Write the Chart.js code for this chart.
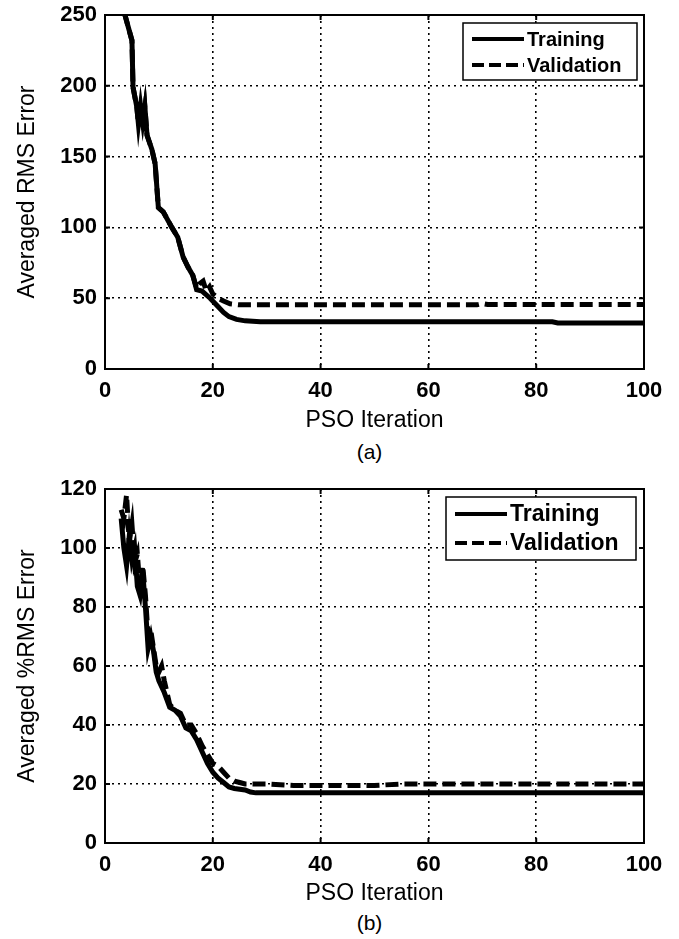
<!DOCTYPE html>
<html>
<head>
<meta charset="utf-8">
<script src="https://cdn.jsdelivr.net/npm/chart.js@4.4.1/dist/chart.umd.min.js"></script>
<style>
  body { margin: 0; background: #fff; }
  #wrap { position: relative; width: 679px; height: 939px; }
  .box { position: absolute; left: 0; width: 679px; height: 440px; }
  .cap { position: absolute; width: 679px; text-align: center; padding-left: 60px; box-sizing: border-box;
         font-family: "Liberation Sans", Arial, sans-serif; font-size: 21px; color: #000; }
</style>
</head>
<body>
<div id="wrap">
  <div class="box" style="top:0"><canvas id="chartA"></canvas></div>
  <div class="cap" style="top:440px">(a)</div>
  <div class="box" style="top:470px"><canvas id="chartB"></canvas></div>
  <div class="cap" style="top:911px">(b)</div>
</div>
<script>
// (a) averaged RMS error
const rmsTrainIter = [3, 3.7, 5, 5.2, 5.9, 6.2, 6.6, 7.0, 7.4, 7.8, 8.7, 9.3, 9.9, 10.8, 12.4, 13.5, 14.5, 15.4, 16.3, 17, 18, 19.5, 21, 22, 23, 24.4, 26, 28.8, 40, 60, 80, 83, 84, 100];
const rmsTrain = [265, 250, 232, 199, 185, 173, 186, 174, 185, 165, 155, 145, 114, 111, 100, 93, 79, 72, 66, 56, 55, 50, 44, 40, 37, 35, 34, 33.3, 33.3, 33.3, 33.3, 33.3, 32.5, 32.5];
const rmsValidIter = [3, 3.7, 5, 5.2, 5.9, 6.2, 6.6, 7.0, 7.4, 7.8, 8.7, 9.3, 9.9, 10.8, 12.4, 13.5, 14.5, 15.4, 16.3, 17, 17.5, 18.2, 18.8, 19.4, 20, 21, 22, 23.2, 25, 40, 60, 69, 70, 71, 100];
const rmsValid = [265, 250, 232, 199, 185, 173, 186, 174, 185, 165, 155, 145, 114, 111, 100, 93, 79, 72, 66, 57, 60, 62, 55, 58, 53, 50, 48, 46, 45.3, 45.3, 45.3, 45.3, 46.2, 45.5, 45.5];

// (b) averaged %RMS error
const pctTrainIter = [3, 3.5, 4, 4.5, 5, 5.5, 6, 6.5, 7, 7.5, 8, 8.5, 9, 9.5, 10, 11, 12, 13, 14, 15, 16, 17, 18, 19, 20, 21, 22, 23, 24, 26, 27, 28, 100];
const pctTrain = [110, 100, 94, 104, 96, 100, 87, 84, 92, 80, 66, 70, 65, 58, 55, 51, 46, 45, 43, 39, 38, 35, 31, 27, 24, 22, 20.5, 19, 18.5, 18, 17.3, 17, 17];
const pctValidIter = [3, 3.5, 4, 4.5, 5, 5.5, 6, 6.5, 7, 7.5, 8, 8.5, 9, 9.5, 10, 10.5, 11, 12, 13, 14, 15, 16, 17, 18, 19, 20, 21, 22, 23, 24, 25, 26, 30, 35, 50, 55, 100];
const pctValid = [113, 110, 118, 102, 108, 95, 98, 86, 94, 84, 70, 72, 66, 60, 58, 60, 55, 47, 45, 44, 40, 40, 37, 33, 30, 27, 26, 24, 22, 21, 20.5, 20, 20, 19.5, 19.5, 20, 20];

const seriesNames = ['Training', 'Validation'];
const xTicks = [0, 20, 40, 60, 80, 100];

const FONT = '"Liberation Sans", Arial, sans-serif';

function pts(xs, ys) {
    return xs.map((x, i) => ({ x: x, y: ys[i] }));
}

// solid box round the plot, with small inward ticks like matlab
const frame = {
    id: 'frame',
    afterDatasetsDraw(chart) {
        const a = chart.chartArea, c = chart.ctx;
        c.save();
        c.strokeStyle = '#000';
        c.lineWidth = 2;
        c.strokeRect(a.left, a.top, a.right - a.left, a.bottom - a.top);
        c.beginPath();
        chart.scales.y.ticks.forEach(t => {
            const y = chart.scales.y.getPixelForValue(t.value);
            c.moveTo(a.left, y); c.lineTo(a.left + 5, y);
            c.moveTo(a.right, y); c.lineTo(a.right - 5, y);
        });
        chart.scales.x.ticks.forEach(t => {
            const x = chart.scales.x.getPixelForValue(t.value);
            c.moveTo(x, a.bottom); c.lineTo(x, a.bottom - 5);
            c.moveTo(x, a.top); c.lineTo(x, a.top + 5);
        });
        c.stroke();
        c.restore();
    }
};

// legend box in the upper right corner of the plot
const boxLegend = {
    id: 'boxLegend',
    afterDraw(chart, args, o) {
        const a = chart.chartArea, c = chart.ctx;
        const x0 = a.right - o.right - o.width, y0 = a.top + o.top;
        c.save();
        c.fillStyle = '#fff';
        c.fillRect(x0, y0, o.width, o.height);
        c.strokeStyle = '#000';
        c.lineWidth = 1.5;
        c.strokeRect(x0, y0, o.width, o.height);
        c.font = 'bold ' + o.size + 'px ' + FONT;
        c.textBaseline = 'middle';
        chart.data.datasets.forEach((ds, i) => {
            const y = y0 + o.rows[i];
            c.beginPath();
            c.setLineDash(i ? [12, 5] : []);
            c.lineWidth = 4;
            c.moveTo(x0 + 9, y);
            c.lineTo(x0 + 9 + o.line, y);
            c.stroke();
            c.setLineDash([]);
            c.fillStyle = '#000';
            c.fillText(ds.label, x0 + 12 + o.line, y + 1);
        });
        c.restore();
    }
};

function makeChart(id, train, valid, yMax, yStep, yTitle, pad, legendOpts) {
    return new Chart(document.getElementById(id), {
        type: 'line',
        data: {
            datasets: [{
                label: seriesNames[0],
                data: train,
                borderColor: '#000',
                borderWidth: 5,
                pointRadius: 0,
                tension: 0
            }, {
                label: seriesNames[1],
                data: valid,
                borderColor: '#000',
                borderWidth: 5,
                borderDash: [13, 6],
                pointRadius: 0,
                tension: 0
            }]
        },
        options: {
            responsive: true,
            maintainAspectRatio: false,
            animation: false,
            layout: { padding: { top: pad.top, right: 35, left: 0, bottom: 0 } },
            plugins: {
                legend: { display: false },
                tooltip: { enabled: false },
                boxLegend: legendOpts
            },
            scales: {
                x: {
                    type: 'linear',
                    min: 0, max: 100,
                    afterBuildTicks: s => { s.ticks = xTicks.map(v => ({ value: v })); },
                    afterFit: s => { s.height = pad.xh; s.paddingLeft = 0; s.paddingRight = 0; },
                    ticks: { color: '#000', padding: 9, font: { family: FONT, size: 22, weight: 'bold' } },
                    grid: { color: '#000', lineWidth: 1.6, drawTicks: false },
                    border: { display: true, color: '#000', width: 2, dash: [2, 4] },
                    title: { display: true, text: 'PSO Iteration', color: '#000', padding: { top: 0, bottom: pad.tb },
                             font: { family: FONT, size: 23 } }
                },
                y: {
                    min: 0, max: yMax,
                    afterFit: s => { s.width = 105; s.paddingTop = 0; s.paddingBottom = 0; },
                    ticks: { stepSize: yStep, color: '#000', padding: 8, font: { family: FONT, size: 22, weight: 'bold' } },
                    grid: { color: '#000', lineWidth: 1.6, drawTicks: false },
                    border: { display: true, color: '#000', width: 2, dash: [2, 4] },
                    title: { display: true, text: yTitle, color: '#000', padding: { top: 14, bottom: 0 },
                             font: { family: FONT, size: 23 } }
                }
            }
        },
        plugins: [frame, boxLegend]
    });
}

makeChart('chartA', pts(rmsTrainIter, rmsTrain), pts(rmsValidIter, rmsValid), 250, 50,
    'Averaged RMS Error', { top: 15, xh: 71, tb: 6 },
    { right: 7, top: 8, width: 174, height: 57, size: 20, line: 52, rows: [16, 42] });

makeChart('chartB', pts(pctTrainIter, pctTrain), pts(pctValidIter, pctValid), 120, 20,
    'Averaged %RMS Error', { top: 19, xh: 67, tb: 3 },
    { right: 8, top: 8, width: 190, height: 63, size: 23, line: 52, rows: [17, 46] });
</script>
</body>
</html>
